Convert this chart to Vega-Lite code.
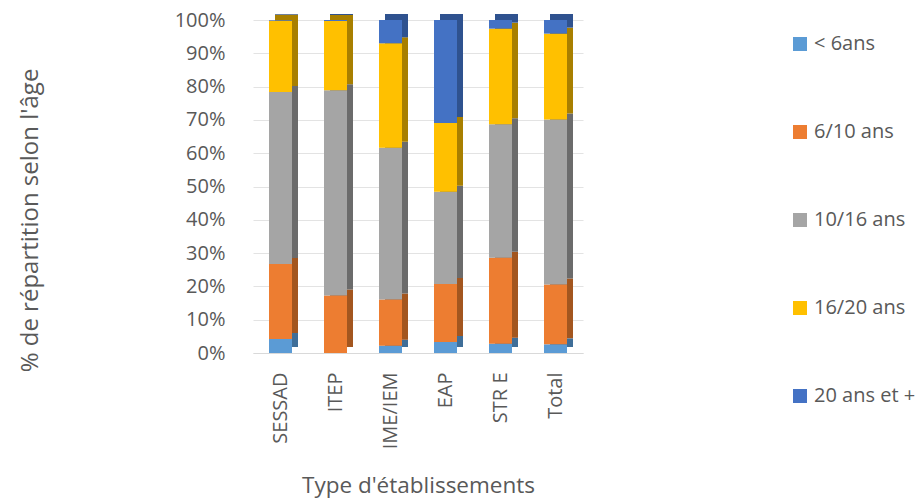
{
  "$schema": "https://vega.github.io/schema/vega-lite/v6.json",
  "width": 330,
  "height": 333,
  "autosize": {"type": "none"},
  "padding": {"left": 253, "top": 20, "right": 338, "bottom": 148},
  "background": "white",
  "config": {
    "font": "Open Sans",
    "view": {"stroke": null},
    "axis": {"labelColor": "#595959", "titleColor": "#595959", "labelFont": "Open Sans", "titleFont": "Open Sans", "titleFontWeight": "normal"}
  },
  "data": {
    "values": [
      {"type": "SESSAD", "age": "< 6ans", "ord": 1, "value": 4.2},
      {"type": "SESSAD", "age": "6/10 ans", "ord": 2, "value": 22.5},
      {"type": "SESSAD", "age": "10/16 ans", "ord": 3, "value": 51.7},
      {"type": "SESSAD", "age": "16/20 ans", "ord": 4, "value": 21.4},
      {"type": "SESSAD", "age": "20 ans et +", "ord": 5, "value": 0.2},
      {"type": "ITEP", "age": "< 6ans", "ord": 1, "value": 0},
      {"type": "ITEP", "age": "6/10 ans", "ord": 2, "value": 17.3},
      {"type": "ITEP", "age": "10/16 ans", "ord": 3, "value": 61.6},
      {"type": "ITEP", "age": "16/20 ans", "ord": 4, "value": 20.8},
      {"type": "ITEP", "age": "20 ans et +", "ord": 5, "value": 0.3},
      {"type": "IME/IEM", "age": "< 6ans", "ord": 1, "value": 2.2},
      {"type": "IME/IEM", "age": "6/10 ans", "ord": 2, "value": 13.9},
      {"type": "IME/IEM", "age": "10/16 ans", "ord": 3, "value": 45.5},
      {"type": "IME/IEM", "age": "16/20 ans", "ord": 4, "value": 31.4},
      {"type": "IME/IEM", "age": "20 ans et +", "ord": 5, "value": 7.0},
      {"type": "EAP", "age": "< 6ans", "ord": 1, "value": 3.3},
      {"type": "EAP", "age": "6/10 ans", "ord": 2, "value": 17.4},
      {"type": "EAP", "age": "10/16 ans", "ord": 3, "value": 27.7},
      {"type": "EAP", "age": "16/20 ans", "ord": 4, "value": 20.7},
      {"type": "EAP", "age": "20 ans et +", "ord": 5, "value": 30.9},
      {"type": "STR E", "age": "< 6ans", "ord": 1, "value": 2.8},
      {"type": "STR E", "age": "6/10 ans", "ord": 2, "value": 25.8},
      {"type": "STR E", "age": "10/16 ans", "ord": 3, "value": 40.1},
      {"type": "STR E", "age": "16/20 ans", "ord": 4, "value": 28.7},
      {"type": "STR E", "age": "20 ans et +", "ord": 5, "value": 2.6},
      {"type": "Total", "age": "< 6ans", "ord": 1, "value": 2.6},
      {"type": "Total", "age": "6/10 ans", "ord": 2, "value": 18.0},
      {"type": "Total", "age": "10/16 ans", "ord": 3, "value": 49.5},
      {"type": "Total", "age": "16/20 ans", "ord": 4, "value": 25.8},
      {"type": "Total", "age": "20 ans et +", "ord": 5, "value": 4.1}
    ]
  },
  "encoding": {
    "x": {
      "field": "type", "type": "nominal",
      "sort": ["SESSAD", "ITEP", "IME/IEM", "EAP", "STR E", "Total"],
      "scale": {"paddingInner": 0.58, "paddingOuter": 0.29},
      "axis": {
        "title": "Type d'établissements", "titleFontSize": 22.5, "titlePadding": 26,
        "labelAngle": -90, "labelFontSize": 20, "labelPadding": 19,
        "ticks": false, "domain": true, "domainColor": "#d9d9d9", "grid": false
      }
    },
    "y": {
      "field": "value", "type": "quantitative", "stack": "zero",
      "scale": {"domain": [0, 100]},
      "axis": {
        "title": "% de répartition selon l'âge", "titleFontSize": 24,
        "titleX": -223, "titleY": 200, "titleAlign": "center", "titleBaseline": "middle", "titleAngle": -90,
        "values": [0, 10, 20, 30, 40, 50, 60, 70, 80, 90, 100],
        "labelExpr": "datum.value + '%'", "labelFontSize": 20, "labelPadding": 28,
        "ticks": false, "domain": false, "grid": true, "gridColor": "#e3e3e3"
      }
    },
    "order": {"field": "ord", "type": "quantitative"}
  },
  "layer": [
    {
      "mark": {"type": "bar", "width": 23, "xOffset": 6, "yOffset": -6},
      "encoding": {
        "color": {
          "field": "age", "type": "nominal",
          "scale": {"domain": ["< 6ans", "6/10 ans", "10/16 ans", "16/20 ans", "20 ans et +"],
                    "range": ["#3F6E98", "#A3561F", "#6B6B6B", "#A87F00", "#2F528F"]},
          "legend": null
        }
      }
    },
    {
      "mark": {"type": "bar", "width": 23},
      "encoding": {
        "color": {
          "field": "age", "type": "nominal",
          "scale": {"domain": ["< 6ans", "6/10 ans", "10/16 ans", "16/20 ans", "20 ans et +"],
                    "range": ["#5B9BD5", "#ED7D31", "#A5A5A5", "#FFC000", "#4472C4"]},
          "legend": {
            "title": null, "orient": "none", "legendX": 537, "legendY": 14,
            "symbolType": "square", "symbolSize": 196, "symbolStrokeWidth": 0,
            "labelFontSize": 20, "labelColor": "#595959", "labelFont": "Open Sans",
            "rowPadding": 68, "labelOffset": 4
          }
        }
      }
    }
  ],
  "resolve": {"scale": {"color": "independent"}}
}
